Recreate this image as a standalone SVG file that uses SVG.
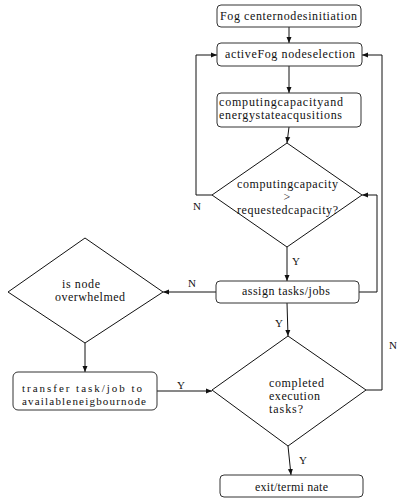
<svg xmlns="http://www.w3.org/2000/svg" width="397" height="502" viewBox="0 0 397 502">
<style>
.box{fill:#fff;stroke:#333;stroke-width:1}
.dia{fill:#fff;stroke:#111;stroke-width:1}
.t{font-family:"Liberation Serif","Times New Roman",serif;font-size:12px;fill:#111}
.s{font-size:11px}
.c{text-anchor:middle}
.l{font-family:"Liberation Serif","Times New Roman",serif;font-size:11px;fill:#111}
.ln{fill:none;stroke:#111;stroke-width:1}
</style>
<defs>
<marker id="ar" markerUnits="userSpaceOnUse" markerWidth="7" markerHeight="6" refX="6" refY="3" orient="auto">
<path d="M0,0.5 L6,3 L0,5.5 z" fill="#111"/>
</marker>
</defs>
<rect width="397" height="502" fill="#fff"/>
<g id="connectors">
<path class="ln" d="M289,27 V43" marker-end="url(#ar)"/>
<path class="ln" d="M289,66 V93" marker-end="url(#ar)"/>
<path class="ln" d="M289,127 L287,143" marker-end="url(#ar)"/>
<path class="ln" d="M212,195 H196 V55 H217" marker-end="url(#ar)"/>
<path class="ln" d="M287,247 V281" marker-end="url(#ar)"/>
<path class="ln" d="M359,292 H377 V195 H362" marker-end="url(#ar)"/>
<path class="ln" d="M216,292 H163" marker-end="url(#ar)"/>
<path class="ln" d="M85,343 V372" marker-end="url(#ar)"/>
<path class="ln" d="M157,391 H212" marker-end="url(#ar)"/>
<path class="ln" d="M287,303 L288,336" marker-end="url(#ar)"/>
<path class="ln" d="M366,390 H382 V55 H362" marker-end="url(#ar)"/>
<path class="ln" d="M288,446 L291,475" marker-end="url(#ar)"/>
<text class="l" x="193" y="210">N</text>
<text class="l" x="292" y="265">Y</text>
<text class="l" x="188" y="287">N</text>
<text class="l" x="275" y="327">Y</text>
<text class="l" x="389" y="349">N</text>
<text class="l" x="177" y="389">Y</text>
<text class="l" x="299" y="464">Y</text>
</g>
<g id="n-init">
<rect class="box" x="217" y="5" width="144" height="22" rx="4"/>
<text class="t" x="220" y="20" textLength="137">Fog centernodesinitiation</text>
</g>
<g id="n-select">
<rect class="box" x="217" y="43" width="145" height="23" rx="4"/>
<text class="t" x="225" y="58" textLength="130">activeFog nodeselection</text>
</g>
<g id="n-acq">
<rect class="box" x="217" y="93" width="144" height="34" rx="4"/>
<text class="t" x="219" y="106" textLength="124">computingcapacityand</text>
<text class="t" x="219" y="119" textLength="123">energystateacqusitions</text>
</g>
<g id="n-cap">
<polygon class="dia" points="287,143 362,195 287,247 212,195"/>
<text class="t" x="237" y="188" textLength="101">computingcapacity</text>
<text class="t c" x="287" y="201">&gt;</text>
<text class="t" x="237" y="214" textLength="101">requestedcapacity?</text>
</g>
<g id="n-assign">
<rect class="box" x="216" y="281" width="143" height="22" rx="4"/>
<text class="t" x="242" y="295" textLength="88">assign tasks/jobs</text>
</g>
<g id="n-over">
<polygon class="dia" points="85,238 163,292 85,343 8,292"/>
<text class="t" x="62" y="288" textLength="38">is node</text>
<text class="t" x="55" y="301" textLength="70">overwhelmed</text>
</g>
<g id="n-transfer">
<rect class="box" x="13" y="372" width="144" height="38" rx="5"/>
<text class="t s" x="22" y="392" textLength="120">transfer task/job to</text>
<text class="t s" x="22" y="405" textLength="124">availableneigbournode</text>
</g>
<g id="n-done">
<polygon class="dia" points="288,336 366,390 288,446 212,390"/>
<text class="t" x="269" y="387" textLength="55">completed</text>
<text class="t" x="269" y="400" textLength="51">execution</text>
<text class="t" x="269" y="413" textLength="34">tasks?</text>
</g>
<g id="n-exit">
<rect class="box" x="220" y="475" width="143" height="22" rx="4"/>
<text class="t" x="255" y="491" textLength="73">exit/termi nate</text>
</g>
</svg>
